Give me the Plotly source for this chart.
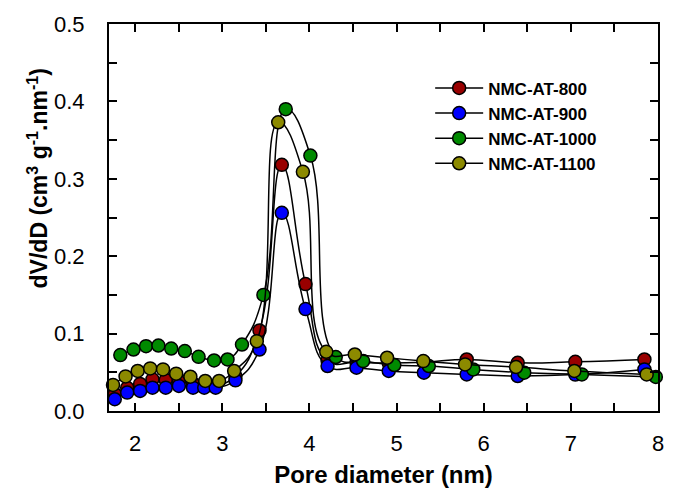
import plotly.graph_objects as go

# Pore size distribution (dV/dD) for the four NMC-AT samples
d_800 = [1.766, 1.909, 2.057, 2.199, 2.351, 2.502, 2.664, 2.793, 2.924, 3.151, 3.427,
         3.683, 3.955, 4.208, 4.540, 4.910, 5.314, 5.805, 6.390, 7.051, 7.844]
v_800 = [0.022, 0.030, 0.035, 0.041, 0.040, 0.038, 0.035, 0.033, 0.033, 0.045, 0.104,
         0.318, 0.164, 0.065, 0.063, 0.062, 0.063, 0.0666, 0.0623, 0.0636, 0.0666]

d_900 = [1.766, 1.909, 2.057, 2.199, 2.351, 2.502, 2.664, 2.793, 2.924, 3.151, 3.427,
         3.683, 3.955, 4.208, 4.540, 4.910, 5.314, 5.805, 6.390, 7.051, 7.844]
v_900 = [0.0152, 0.0238, 0.026, 0.0302, 0.0302, 0.0324, 0.0302, 0.0302, 0.0302, 0.0396, 0.0794,
         0.256, 0.1317, 0.0581, 0.0559, 0.0517, 0.0495, 0.0473, 0.0452, 0.047, 0.0537]

d_1000 = [1.830, 1.981, 2.125, 2.267, 2.414, 2.570, 2.728, 2.906, 3.060, 3.226, 3.472,
          3.728, 4.011, 4.302, 4.616, 4.974, 5.370, 5.880, 6.465, 7.126, 7.975]
v_1000 = [0.0722, 0.0794, 0.0838, 0.0846, 0.0807, 0.0774, 0.0700, 0.0653, 0.0666, 0.0859, 0.150,
          0.390, 0.330, 0.0697, 0.0645, 0.0594, 0.0581, 0.0537, 0.0495, 0.0473, 0.0440]

d_1100 = [1.746, 1.890, 2.029, 2.173, 2.320, 2.471, 2.634, 2.804, 2.963, 3.136, 3.396,
          3.642, 3.925, 4.193, 4.521, 4.891, 5.307, 5.786, 6.371, 7.040, 7.870]
v_1100 = [0.0337, 0.0447, 0.0517, 0.0550, 0.0537, 0.0482, 0.0443, 0.0388, 0.0388, 0.0517, 0.0902,
          0.373, 0.309, 0.0765, 0.0730, 0.0688, 0.0645, 0.0602, 0.0568, 0.0517, 0.0473]

names = ["NMC-AT-800", "NMC-AT-900", "NMC-AT-1000", "NMC-AT-1100"]
colors = ["#990000", "#0000ff", "#008a00", "#8c8a00"]
series = [(d_800, v_800), (d_900, v_900), (d_1000, v_1000), (d_1100, v_1100)]

x_ticks = [2, 3, 4, 5, 6, 7, 8]
y_ticks = [0.0, 0.1, 0.2, 0.3, 0.4, 0.5]

FONT = "Liberation Sans, Arial, sans-serif"

fig = go.Figure()
for name, color, (xs, ys) in zip(names, colors, series):
    fig.add_trace(go.Scatter(
        x=xs, y=ys, name=name, mode="lines+markers",
        line=dict(color="black", width=1.5, shape="spline", smoothing=1.3),
        marker=dict(size=13, color=color, line=dict(color="black", width=1.5)),
        cliponaxis=False,
    ))

axis_common = dict(
    showline=True, linecolor="black", linewidth=2, mirror="allticks",
    ticks="inside", ticklen=8, tickwidth=2, tickcolor="black",
    showgrid=False, zeroline=False,
    tickfont=dict(family=FONT, size=22, color="black"),
)

fig.update_xaxes(
    range=[1.70, 8.0], tickvals=x_ticks, ticktext=[str(t) for t in x_ticks],
    minor=dict(tickvals=[2.5, 3.5, 4.5, 5.5, 6.5, 7.5], ticks="inside", ticklen=8,
               tickwidth=2, tickcolor="black"),
    ticklabelstandoff=12,
    title=dict(text="<b>Pore diameter (nm)</b>", font=dict(family=FONT, size=24, color="black"),
               standoff=11),
    **axis_common,
)
fig.update_yaxes(
    range=[0.0, 0.5], tickvals=y_ticks, ticktext=[f"{t:.1f}" for t in y_ticks],
    minor=dict(tickvals=[0.05, 0.15, 0.25, 0.35, 0.45], ticks="inside", ticklen=8,
               tickwidth=2, tickcolor="black"),
    ticklabelstandoff=18,
    **axis_common,
)

fig.add_annotation(
    text="<b>dV/dD (cm<sup>3</sup> g<sup>-1</sup>.nm<sup>-1</sup>)</b>",
    xref="paper", yref="paper", x=-0.13, y=0.6, xanchor="center", yanchor="middle",
    textangle=-90, showarrow=False,
    font=dict(family=FONT, size=23, color="black"),
)

fig.update_layout(
    width=675, height=495,
    margin=dict(l=109, r=11, t=24, b=81),
    paper_bgcolor="white", plot_bgcolor="white",
    showlegend=True,
    legend=dict(
        x=0.585, y=0.88, xanchor="left", yanchor="top",
        bgcolor="rgba(0,0,0,0)", borderwidth=0,
        font=dict(family=FONT, size=17, color="black", weight="bold"),
        itemwidth=48, tracegroupgap=0,
    ),
)

fig.write_html("out.html")
